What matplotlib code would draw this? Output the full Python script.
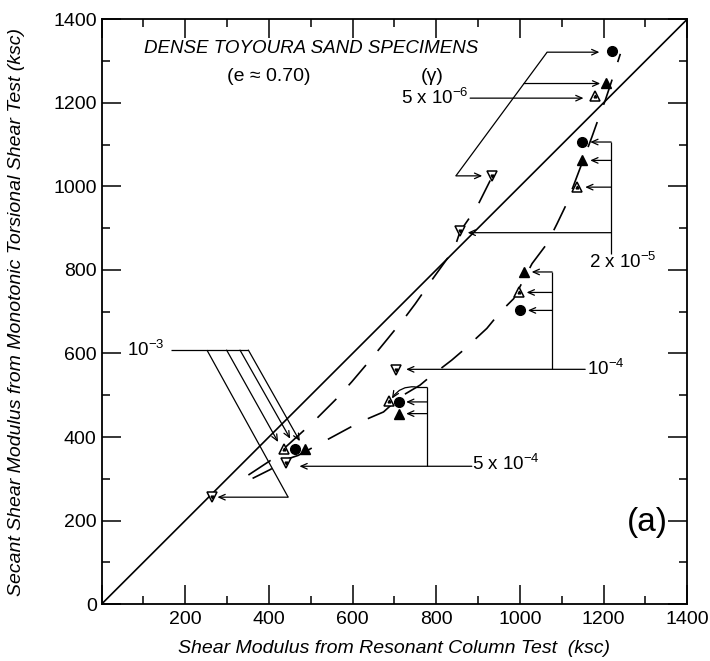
import matplotlib.pyplot as plt
from matplotlib.ticker import MultipleLocator

plt.rcParams['font.family'] = ['Liberation Sans', 'DejaVu Sans']
plt.rcParams['mathtext.fontset'] = 'custom'
plt.rcParams['mathtext.rm'] = 'Liberation Sans'
plt.rcParams['mathtext.it'] = 'Liberation Sans:italic'

# Shear moduli (ksc), ordered by strain level:
# 1e-3, 5e-4, 1e-4, 2e-5, 5e-6
circle_x = [462, 710, 1001, 1148, 1220]
circle_y = [372, 484, 703, 1106, 1323]
tri_filled_x = [487, 710, 1010, 1148, 1206]
tri_filled_y = [372, 456, 795, 1062, 1248]
tri_open_x = [436, 686, 998, 1136, 1180]
tri_open_y = [371, 486, 746, 998, 1215]
tri_down_x = [265, 441, 705, 857, 933]
tri_down_y = [257, 337, 560, 892, 1025]

# dashed trend curves
curve_a_x = [351, 407, 506, 562, 598, 642, 678, 726, 750, 789, 812, 843, 857, 897, 929]
curve_a_y = [309, 346, 436, 492, 532, 584, 628, 687, 719, 775, 807, 850, 892, 950, 1014]
curve_b_x = [361, 403, 446, 470, 618, 674, 714, 761, 785, 837, 865, 921, 953, 985,
             1029, 1065, 1089, 1112, 1172, 1192, 1204, 1216, 1240]
curve_b_y = [301, 322, 348, 356, 436, 460, 496, 524, 544, 584, 608, 660, 699, 731,
             815, 863, 911, 959, 1118, 1174, 1206, 1242, 1317]

strain_labels = ['10$^{-3}$', '5 x 10$^{-4}$', '10$^{-4}$', '2 x 10$^{-5}$', '5 x 10$^{-6}$']

fig = plt.figure(figsize=(7.1, 6.61), dpi=100)
ax = fig.add_axes([0.143, 0.086, 0.825, 0.885])

lw = 0.9
fs = 13.5


def arrow(ax, x0, y0, x1, y1, **kw):
    ax.annotate('', xy=(x1, y1), xytext=(x0, y0),
                arrowprops=dict(arrowstyle='->,head_length=0.45,head_width=0.2',
                                lw=lw, color='black', shrinkA=0, shrinkB=0, **kw))


def line(ax, xs, ys):
    ax.plot(xs, ys, color='black', lw=lw, solid_capstyle='butt')


# 1:1 line
ax.plot([0, 1400], [0, 1400], color='black', lw=1.2)

# trend curves
ax.plot(curve_a_x, curve_a_y, color='black', lw=1.2, linestyle=(0, (16, 11)))
ax.plot(curve_b_x, curve_b_y, color='black', lw=1.2, linestyle=(3, (16, 11)))

ms = 7
ax.plot(circle_x, circle_y, 'o', color='black', ms=ms, zorder=5)
ax.plot(tri_filled_x, tri_filled_y, '^', color='black', ms=ms, zorder=5)
ax.plot(tri_open_x, tri_open_y, '^', mfc='white', mec='black', mew=1.1, ms=ms, zorder=5)
ax.plot(tri_open_x, tri_open_y, '^', color='black', ms=2, zorder=6)
ax.plot(tri_down_x, tri_down_y, 'v', mfc='white', mec='black', mew=1.1, ms=ms, zorder=5)
ax.plot(tri_down_x, tri_down_y, 'v', color='black', ms=2, zorder=6)

# --- gamma = 1e-3 leaders
line(ax, [167, 351], [608, 608])
line(ax, [252, 446], [608, 256])
arrow(ax, 446, 256, tri_down_x[0] + 12, 256)
arrow(ax, 299, 608, 422, 388)
arrow(ax, 331, 608, 451, 396)
arrow(ax, 351, 608, 474, 390)
ax.text(150, 608, strain_labels[0], fontsize=fs, ha='right', va='center')

# --- gamma = 5e-4 leaders
arrow(ax, 885, 330, tri_down_x[1] + 32, 330)
line(ax, [779, 779], [330, 520])
line(ax, [779, 750], [520, 520])
arrow(ax, 750, 520, tri_open_x[1] + 8, tri_open_y[1] + 6, connectionstyle='arc3,rad=0.3')
arrow(ax, 779, circle_y[1], circle_x[1] + 18, circle_y[1])
arrow(ax, 779, tri_filled_y[1], tri_filled_x[1] + 18, tri_filled_y[1])
ax.text(885, 335, strain_labels[1], fontsize=fs, ha='left', va='center')

# --- gamma = 1e-4 leaders
arrow(ax, 1156, 562, tri_down_x[2] + 23, 562)
line(ax, [1077, 1077], [562, tri_filled_y[2]])
for px, py in [(tri_filled_x[2], tri_filled_y[2]), (tri_open_x[2], tri_open_y[2]),
               (circle_x[2], circle_y[2])]:
    arrow(ax, 1077, py, px + 18, py)
ax.text(1160, 564, strain_labels[2], fontsize=fs, ha='left', va='center')

# --- gamma = 2e-5 leaders
line(ax, [1218, 1218], [839, circle_y[3]])
arrow(ax, 1218, 889, tri_down_x[3] + 18, 889)
for px, py in [(circle_x[3], circle_y[3]), (tri_filled_x[3], tri_filled_y[3]),
               (tri_open_x[3], tri_open_y[3])]:
    arrow(ax, 1218, py, px + 20, py)
ax.text(1166, 820, strain_labels[3], fontsize=fs, ha='left', va='center')

# --- gamma = 5e-6 leaders
arrow(ax, 881, 1211, tri_open_x[4] - 28, 1211)
line(ax, [847, 1065], [1025, 1321])
arrow(ax, 1065, 1321, circle_x[4] - 30, 1321)
arrow(ax, 1010, 1246, tri_filled_x[4] - 14, 1246)
arrow(ax, 847, 1025, tri_down_x[4] - 23, 1025)
ax.text(878, 1212, strain_labels[4], fontsize=fs, ha='right', va='center')

# titles inside the frame
ax.text(900, 1330, 'DENSE TOYOURA SAND SPECIMENS', fontsize=13.5, style='italic',
        ha='right', va='center')
ax.text(400, 1262, '(e \u2248 0.70)', fontsize=14, ha='center', va='center')
ax.text(790, 1262, '(\u03b3)', fontsize=14, ha='center', va='center')
ax.text(1305, 195, '(a)', fontsize=24, ha='center', va='center')

ax.set_xlim(0, 1400)
ax.set_ylim(0, 1400)
ax.xaxis.set_major_locator(MultipleLocator(200))
ax.xaxis.set_minor_locator(MultipleLocator(100))
ax.yaxis.set_major_locator(MultipleLocator(200))
ax.yaxis.set_minor_locator(MultipleLocator(100))
ax.tick_params(which='both', direction='in', top=True, right=True, width=1.1,
               labelsize=14)
ax.tick_params(which='major', length=14)
ax.tick_params(which='minor', length=6)
ax.tick_params(axis='x', pad=5)
ax.set_xticks(range(0, 1401, 200))
ax.set_xticklabels([''] + [str(v) for v in range(200, 1401, 200)])
for s in ax.spines.values():
    s.set_linewidth(1.3)

ax.set_xlabel('Shear Modulus from Resonant Column Test  (ksc)', fontsize=14,
              style='italic')
ax.set_ylabel('Secant Shear Modulus from Monotonic Torsional Shear Test (ksc)',
              fontsize=14, style='italic')
ax.xaxis.set_label_coords(0.5, -0.062)
ax.yaxis.set_label_coords(-0.13, 0.5)

plt.savefig('out.png', dpi=100)
plt.close()
